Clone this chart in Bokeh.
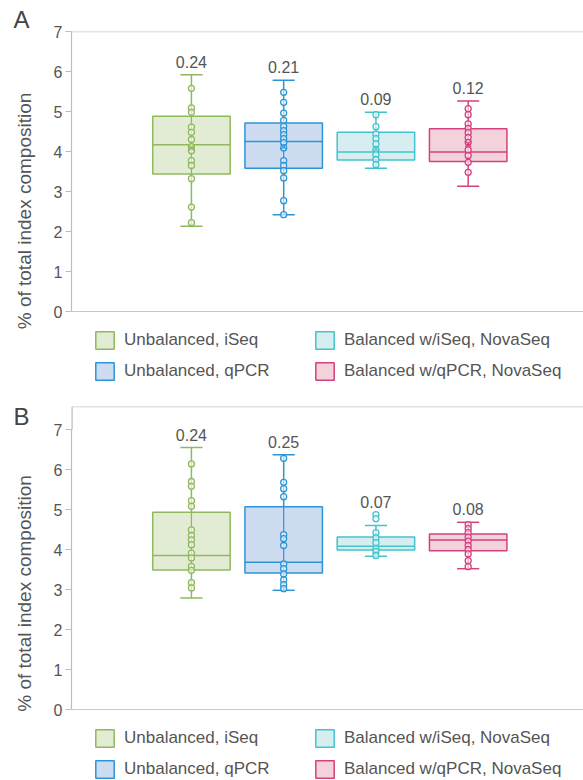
from bokeh.plotting import figure
from bokeh.models import Range1d, FixedTicker, Span, Legend, LegendItem, ColumnDataSource
from bokeh.layouts import column
from bokeh.embed import file_html
from bokeh.resources import INLINE
from bokeh.core.properties import value

FONT = "Liberation Sans"
TXT = "#555555"

groups = ["Unbalanced, iSeq", "Unbalanced, qPCR",
          "Balanced w/iSeq, NovaSeq", "Balanced w/qPCR, NovaSeq"]
line_colors = ["#8fba5c", "#2b95d6", "#45c3cc", "#d6407f"]
fill_colors = ["#e2ebd3", "#cedcf2", "#d6eef0", "#f2d3dc"]
positions = [1, 2, 3, 4]
y_ticks = [0, 1, 2, 3, 4, 5, 6, 7]

# ---------------- Panel A ----------------
a_q1 = [3.44, 3.58, 3.79, 3.75]
a_median = [4.17, 4.25, 3.99, 3.99]
a_q3 = [4.88, 4.71, 4.48, 4.57]
a_lower = [2.13, 2.42, 3.58, 3.13]
a_upper = [5.92, 5.78, 4.98, 5.26]
a_mean = [4.09, 4.12, 4.07, 4.19]
a_cv = ["0.24", "0.21", "0.09", "0.12"]
a_pts_unbal_iseq = [5.58, 5.09, 4.98, 4.61, 4.48, 4.30, 4.12, 4.02, 3.77, 3.65, 3.32, 2.61, 2.22]
a_pts_unbal_qpcr = [5.48, 5.23, 4.96, 4.78, 4.63, 4.52, 4.42, 4.32, 4.22, 4.09, 3.77, 3.65, 3.52, 3.34, 2.77, 2.42]
a_pts_bal_iseq = [4.92, 4.62, 4.44, 4.32, 4.19, 4.04, 3.92, 3.80, 3.67]
a_pts_bal_qpcr = [5.07, 4.92, 4.69, 4.58, 4.47, 4.35, 4.23, 4.04, 3.90, 3.73, 3.48]

# ---------------- Panel B ----------------
b_q1 = [3.49, 3.41, 3.99, 3.97]
b_median = [3.85, 3.68, 4.08, 4.24]
b_q3 = [4.93, 5.07, 4.31, 4.39]
b_lower = [2.79, 2.98, 3.83, 3.52]
b_upper = [6.55, 6.37, 4.60, 4.68]
b_cv = ["0.24", "0.25", "0.07", "0.08"]
b_pts_unbal_iseq = [6.14, 5.70, 5.58, 5.22, 5.08, 4.49, 4.35, 4.24, 4.12, 3.91, 3.79, 3.58, 3.48, 3.17, 3.04]
b_pts_unbal_qpcr = [6.28, 5.68, 5.52, 5.32, 4.37, 4.27, 4.10, 3.64, 3.52, 3.39, 3.24, 3.12, 3.02]
b_pts_bal_iseq = [4.87, 4.77, 4.42, 4.29, 4.17, 4.02, 3.95, 3.85]
b_pts_bal_qpcr = [4.62, 4.52, 4.42, 4.31, 4.21, 4.10, 4.00, 3.89, 3.72, 3.57]

BOX_W = 0.84
CAP_W = 0.24


def build(letter, q1, med, q3, lo, hi, cv, pts, mean, y_start, y_top, b_top, height,
          title_standoff, legend_y):
    p = figure(width=583, height=height, output_backend="svg", toolbar_location=None,
               x_range=Range1d(-0.3, 5.25), y_range=Range1d(y_start, y_top),
               min_border_left=71, min_border_right=0,
               min_border_top=b_top, min_border_bottom=0)
    p.xaxis.visible = False
    p.xgrid.visible = False
    p.ygrid.visible = False
    p.outline_line_color = None
    p.background_fill_color = "white"

    p.title.text = letter
    p.title.align = "left"
    p.title.offset = -58
    p.title.standoff = title_standoff
    p.title.text_font = FONT
    p.title.text_font_size = "24px"
    p.title.text_font_style = "normal"
    p.title.text_color = "#444444"

    ax = p.yaxis[0]
    ax.bounds = (0, 7)
    ax.ticker = FixedTicker(ticks=y_ticks)
    ax.minor_tick_line_color = None
    ax.major_tick_out = 6
    ax.major_tick_in = 0
    ax.major_tick_line_color = "#bdbdbd"
    ax.axis_line_color = "#bdbdbd"
    ax.axis_line_width = 1.2
    ax.major_tick_line_width = 1.2
    ax.major_label_standoff = 3
    ax.major_label_text_font = FONT
    ax.major_label_text_font_size = "16px"
    ax.major_label_text_color = TXT
    ax.axis_label = "% of total index composition"
    ax.axis_label_text_font = FONT
    ax.axis_label_text_font_size = "19px"
    ax.axis_label_text_font_style = "normal"
    ax.axis_label_text_color = TXT
    ax.axis_label_standoff = 16

    p.add_layout(Span(location=y_top, dimension="width", line_color="#c8c8c8", line_width=1.5))
    p.add_layout(Span(location=0, dimension="width", line_color="#c8c8c8", line_width=1.2))
    if y_top > 7:
        p.segment(x0=[-0.3], x1=[-0.3], y0=[7], y1=[y_top], line_color="#bdbdbd", line_width=2.4)

    src = ColumnDataSource(dict(x=positions, q1=q1, q3=q3, fill=fill_colors, line=line_colors))
    p.segment(x0=positions, x1=positions, y0=lo, y1=q1, line_color=line_colors, line_width=1.5)
    p.segment(x0=positions, x1=positions, y0=q3, y1=hi, line_color=line_colors, line_width=1.5)
    p.segment(x0=[x - CAP_W / 2 for x in positions], x1=[x + CAP_W / 2 for x in positions],
              y0=lo, y1=lo, line_color=line_colors, line_width=1.5)
    p.segment(x0=[x - CAP_W / 2 for x in positions], x1=[x + CAP_W / 2 for x in positions],
              y0=hi, y1=hi, line_color=line_colors, line_width=1.5)
    box = p.vbar(x="x", width=BOX_W, bottom="q1", top="q3", fill_color="fill",
                 line_color="line", line_width=1.5, source=src)
    p.segment(x0=[x - BOX_W / 2 for x in positions], x1=[x + BOX_W / 2 for x in positions],
              y0=med, y1=med, line_color=line_colors, line_width=1.5)
    p.segment(x0=positions, x1=positions, y0=q1, y1=q3, line_color=line_colors, line_width=1.2)

    for i, vals in enumerate(pts):
        p.scatter(x=[positions[i]] * len(vals), y=vals, marker="circle", size=6,
                  line_color=line_colors[i], line_width=1.3, fill_color="white", fill_alpha=0.6)
    if mean is not None:
        p.scatter(x=positions, y=mean, marker="x", size=8, line_color=line_colors, line_width=1.3)

    label_y = [max(h, max(v)) for h, v in zip(hi, pts)]
    p.text(x=positions, y=label_y, text=cv, text_align="center", text_baseline="bottom",
           y_offset=-7, text_font=value(FONT), text_font_size="16px", text_color=TXT)

    items = [LegendItem(label=groups[i], renderers=[box], index=i) for i in range(4)]
    common = dict(glyph_width=23, glyph_height=22, label_standoff=8, spacing=9, padding=0,
                  margin=0, border_line_color=None, background_fill_alpha=0,
                  label_text_font=FONT, label_text_font_size="17px", label_text_color=TXT)
    p.add_layout(Legend(items=items[:2], location=(22, legend_y), **common))
    p.add_layout(Legend(items=items[2:], location=(242, legend_y), **common))
    return p


pa = build("A", a_q1, a_median, a_q3, a_lower, a_upper, a_cv,
           [a_pts_unbal_iseq, a_pts_unbal_qpcr, a_pts_bal_iseq, a_pts_bal_qpcr], a_mean,
           -1.975, 7, 31, 390, -2, 8)
pb = build("B", b_q1, b_median, b_q3, b_lower, b_upper, b_cv,
           [b_pts_unbal_iseq, b_pts_unbal_qpcr, b_pts_bal_iseq, b_pts_bal_qpcr], None,
           -1.775, 7.575, 16, 390, -46, 0)

layout = column(pa, pb, spacing=0)
open("out.html", "w").write(file_html(layout, INLINE))
